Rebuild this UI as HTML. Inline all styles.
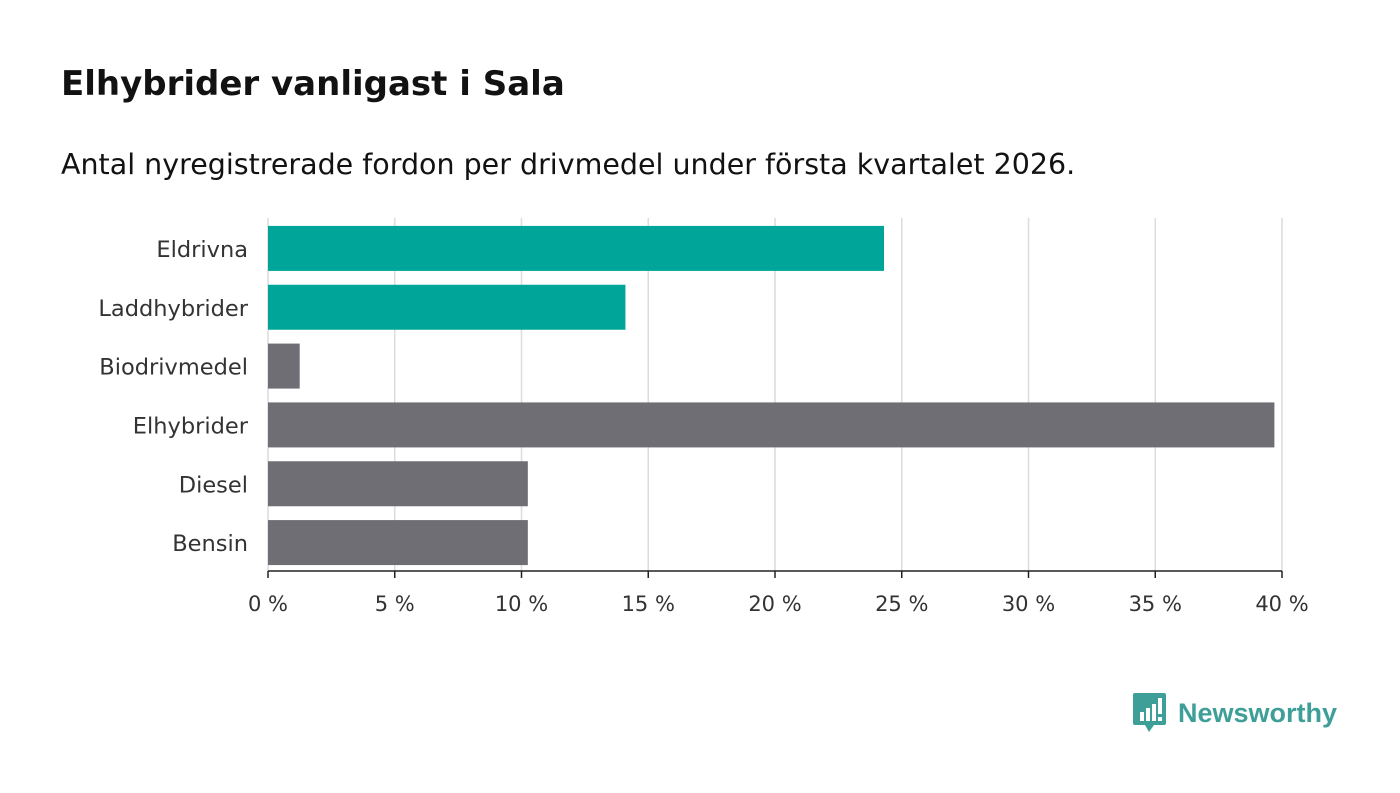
<!DOCTYPE html>
<html><head><meta charset="utf-8"><style>
body{margin:0;width:1400px;height:793px;background:#fff;font-family:"DejaVu Sans","Liberation Sans",sans-serif;position:relative;overflow:hidden}
h1{position:absolute;left:61px;top:64px;margin:0;font-size:34px;font-weight:bold;color:#121212}
.sub{position:absolute;left:61px;top:148px;font-size:28.5px;color:#121212}
</style></head><body>
<h1>Elhybrider vanligast i Sala</h1>
<div class="sub">Antal nyregistrerade fordon per drivmedel under första kvartalet 2026.</div>
<svg id="chart" width="1400" height="793" style="position:absolute;left:0;top:0"></svg>
<div style="position:absolute;left:1133px;top:693px;display:flex;align-items:center">
<svg width="33" height="41" viewBox="0 0 33 41"><path d="M2 0h29a2 2 0 0 1 2 2v28a2 2 0 0 1-2 2H21l-5 7-4-7H2a2 2 0 0 1-2-2V2a2 2 0 0 1 2-2z" fill="#3e9f98"/><rect x="7" y="19" width="4" height="9" fill="#fff"/><rect x="13" y="15" width="4" height="13" fill="#fff"/><rect x="19" y="11" width="4" height="17" fill="#fff"/><rect x="25" y="5" width="4" height="16" fill="#fff"/><rect x="25" y="24" width="4" height="4" fill="#fff"/></svg>
<span style="margin-left:12px;font-size:27px;font-weight:bold;color:#3e9f98;font-family:'Liberation Sans',sans-serif">Newsworthy</span></div>
<script>
const categories=["Eldrivna","Laddhybrider","Biodrivmedel","Elhybrider","Diesel","Bensin"];
const values=[24.3,14.1,1.25,39.7,10.25,10.25];
const highlight=[true,true,false,false,false,false];
const ticks=[0,5,10,15,20,25,30,35,40];
(function(){
const svg=document.getElementById('chart');const NS="http://www.w3.org/2000/svg";
const x0=268,x1=1282,plotTop=218,plotBottom=571,maxV=40;
const xs=v=>x0+(x1-x0)*v/maxV;
const step=(plotBottom-plotTop)/categories.length;
function mk(t,a){const e=document.createElementNS(NS,t);for(const k in a)e.setAttribute(k,a[k]);svg.appendChild(e);return e;}
ticks.forEach(t=>{
 const g=mk('line',{x1:xs(t),x2:xs(t),y1:plotTop,y2:plotBottom,stroke:'#dcdcdc','stroke-width':1.5});
 
 
 const tk=mk('line',{x1:xs(t),x2:xs(t),y1:plotBottom,y2:plotBottom+7,stroke:'#222','stroke-width':1.5});
 
 
 const l=mk('text',{x:xs(t),y:plotBottom+40,'text-anchor':'middle','font-size':21,fill:'#333'});
 l.textContent=t+' %';
 
 
});
const ax=mk('line',{x1:x0,x2:x1,y1:plotBottom,y2:plotBottom,stroke:'#222','stroke-width':1.5});


categories.forEach((c,i)=>{
 const y=plotTop+1+step*i+(step-45)/2;
 const r=mk('rect',{x:x0,y:y,width:xs(values[i])-x0,height:45,fill:highlight[i]?'#00a59a':'#6f6e75'});
 
 
 const l=mk('text',{x:248,y:y+31,'text-anchor':'end','font-size':22.5,fill:'#333'});
 l.textContent=c;
 
 
});
})();
</script>
</body></html>
